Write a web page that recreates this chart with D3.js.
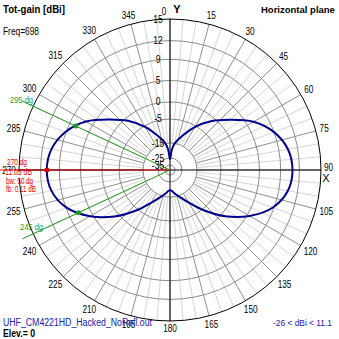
<!DOCTYPE html>
<html><head><meta charset="utf-8">
<script src="https://cdn.jsdelivr.net/npm/d3@7"></script>
<style>body{margin:0;background:#fff}svg{display:block}text{font-family:Arial,"Liberation Sans",sans-serif}</style>
</head><body><svg id="c" width="339" height="339"></svg>
<script>
// ---- data ----
const ringValues = [15, 12, 9, 5, 0, -5, -15, -25, -35];
const ringLabels = ["15", "12", "9", "5", "0", "-5", "-15", "-25", "-35"];
const angleTickValues = [0,15,30,45,60,75,90,105,120,135,150,165,180,195,210,225,240,255,270,285,300,315,330,345];
const angleTickLabels = ["0","15","30","45","60","75","90","105","120","135","150","165","180","195","210","225","240","255","270","285","300","315","330","345"];
const patternAngles = [0,5,10,20,30,40,50,60,70,80,90,100,110,120,130,140,150,160,170,175,180,
  185,190,200,210,220,230,240,250,260,270,280,290,300,310,320,330,340,350,355,360];
const patternGain = [-26,-19,-15,-10.5,-5.5,-1.2,2.5,6.4,9.0,10.5,10.94,10.5,8.8,5.5,1.0,-4.5,-10,-14,-17,-18.5,-19,
  -18.4,-16.9,-13.9,-9.9,-4.4,1.1,5.6,8.9,10.6,11.05,10.6,9.1,6.5,2.6,-1.1,-5.4,-10.4,-14.9,-18.9,-26];
const markerAngles = [295, 245];
const markerLabels = ["295 dg", "245 dg"];
const maxAngle = 270, maxGain = 11.05;
const infoLines = ["270 dg", "11.05 dB", "bw: 50 dg", "fb: 0.11 dB"];

// ---- layout ----
const svg = d3.select("#c");
const cx = 170, cy = 170, R = 151;
const expo = d3.scaleLinear().domain([0, 15]).range([0, Math.log(2.024)]);
const B = 13.05, C = (R + B) / Math.exp(expo(15));
const rdb = db => Math.max(5, C * Math.exp(expo(db)) - B);
const rad = a => (a - 90) * Math.PI / 180;
const px = (a, r) => cx + r * Math.cos(rad(a));
const py = (a, r) => cy + r * Math.sin(rad(a));
const GREEN = "#1f9a1f", RED = "#e00000", BLUE = "#2020b0";
const squeeze = (sel, k) => { const w = sel.node().getComputedTextLength(); sel.attr("textLength", w * k).attr("lengthAdjust", "spacingAndGlyphs"); return sel; };
const fitW = (sel, w) => sel.attr("textLength", w).attr("lengthAdjust", "spacingAndGlyphs");

const g = svg.append("g");
d3.range(0, 360, 5).forEach(a => {
  const major = a % 15 === 0;
  g.append("line").attr("x1", px(a, rdb(-15))).attr("y1", py(a, rdb(-15)))
    .attr("x2", px(a, R)).attr("y2", py(a, R))
    .attr("stroke", major ? "#909090" : "#d6d6d6").attr("stroke-width", 1);
});
ringValues.forEach((v, i) => {
  g.append("circle").attr("cx", cx).attr("cy", cy).attr("r", rdb(v))
    .attr("fill", "none").attr("stroke", i === 0 ? "#000" : "#8c8c8c").attr("stroke-width", 1);
});
g.append("line").attr("x1", cx).attr("y1", cy - R).attr("x2", cx).attr("y2", cy + R).attr("stroke", "#000");
g.append("line").attr("x1", cx - R).attr("y1", cy).attr("x2", cx + R).attr("y2", cy).attr("stroke", "#000");

markerAngles.forEach(a => {
  g.append("line").attr("x1", cx).attr("y1", cy).attr("x2", px(a, R + 12)).attr("y2", py(a, R + 12))
    .attr("stroke", GREEN).attr("stroke-width", 1);
});

// pattern
const line = d3.lineRadial().angle(d => d[0] * Math.PI / 180).radius(d => rdb(d[1])).curve(d3.curveCatmullRomClosed);
const pts = patternAngles.slice(0, -1).map((a, i) => [a, patternGain[i]]);
svg.append("path").attr("transform", `translate(${cx},${cy})`).attr("d", line(pts))
  .attr("fill", "none").attr("stroke", "#00008c").attr("stroke-width", 2);

// ring labels
ringValues.forEach((v, i) => {
  squeeze(svg.append("text").attr("x", cx - 12).attr("y", cy - rdb(v)).attr("dy", "0.35em")
    .attr("text-anchor", "middle").attr("font-size", 10).attr("fill", "#000").text(ringLabels[i]), 0.85);
});
// angle labels
angleTickValues.forEach((a, i) => {
  const lab = angleTickLabels[i];
  const w = lab.length * 4.6, h = 9;
  const ext = Math.abs(Math.sin(a * Math.PI / 180)) * w / 2 + Math.abs(Math.cos(a * Math.PI / 180)) * h / 2;
  let x = px(a, R + 3 + ext), y = py(a, R + 3 + ext);
  if (a === 0) { x = cx - 6; y = 11; }
  if (a === 90) { y = cy - 3; }
  squeeze(svg.append("text").attr("x", x).attr("y", y).attr("dy", "0.35em").attr("text-anchor", "middle")
    .attr("font-size", 10).attr("fill", "#000").text(lab), 0.82);
});
svg.append("text").attr("x", cx + 7).attr("y", 13).attr("font-size", 11).attr("font-weight", "bold").attr("text-anchor", "middle").text("Y");
svg.append("text").attr("x", cx + R + 5).attr("y", cy + 12).attr("font-size", 11).attr("text-anchor", "middle").text("X");

// markers
const interp = d3.scaleLinear().domain(patternAngles).range(patternGain);
markerAngles.forEach(a => {
  const gv = interp(a);
  svg.append("circle").attr("cx", px(a, rdb(gv))).attr("cy", py(a, rdb(gv))).attr("r", 2.5).attr("fill", GREEN);
});
markerAngles.forEach((a, i) => {
  fitW(svg.append("text").attr("x", a > 270 ? 10 : 20).attr("y", a > 270 ? 103 : 230).attr("font-size", 9.5)
    .attr("fill", GREEN).text(markerLabels[i]), 23);
});

// info box (covers most of the 270 label)
const infoY = [165, 175, 184, 192];
const infoX = [7, 5, 6, 6];
const infoW = [20, 27, 27, 30];
infoLines.forEach((t, i) => {
  const tx = fitW(svg.append("text").attr("x", infoX[i]).attr("y", infoY[i]).attr("font-size", 9.5)
    .attr("fill", RED).text(t), infoW[i]);
  if (i === 1) {
    svg.insert("rect", () => tx.node()).attr("x", infoX[i]).attr("y", cy + 1).attr("width", infoW[i]).attr("height", infoY[i] + 2 - cy).attr("fill", "#fff");
  }
});
svg.append("line").attr("x1", 0).attr("y1", cy).attr("x2", cx).attr("y2", cy).attr("stroke", RED);
svg.append("circle").attr("cx", px(maxAngle, rdb(maxGain))).attr("cy", py(maxAngle, rdb(maxGain))).attr("r", 2.5).attr("fill", RED);

// titles
fitW(svg.append("text").attr("x", 3).attr("y", 13).attr("font-size", 11).attr("font-weight", "bold").text("Tot-gain [dBi]"), 62);
fitW(svg.append("text").attr("x", 3).attr("y", 35).attr("font-size", 10).text("Freq=698"), 36);
svg.append("text").attr("x", 261).attr("y", 13).attr("font-size", 9.5).attr("font-weight", "bold").text("Horizontal plane");
fitW(svg.append("text").attr("x", 3).attr("y", 326).attr("font-size", 10).attr("fill", BLUE).text("UHF_CM4221HD_Hacked_NoRefl.out"), 149);
fitW(svg.append("text").attr("x", 3).attr("y", 337).attr("font-size", 10).attr("font-weight", "bold").text("Elev.= 0"), 32);
fitW(svg.append("text").attr("x", 273).attr("y", 326).attr("font-size", 9.5).attr("fill", BLUE).text("-26 < dBi < 11.1"), 59);
</script></body></html>
